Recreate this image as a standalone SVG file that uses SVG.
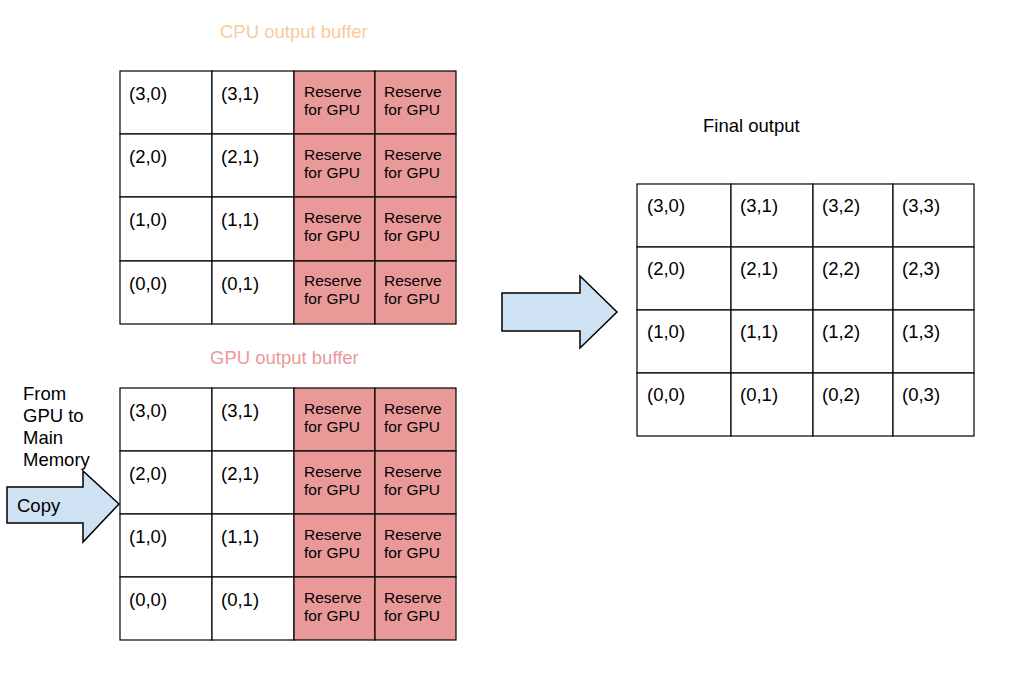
<svg xmlns="http://www.w3.org/2000/svg" width="1036" height="685" viewBox="0 0 1036 685">
<style>
text{font-family:"Liberation Sans",Arial,sans-serif;fill:#000}
.t{font-size:18.5px}
.r{font-size:15.5px}
.cell{fill:#fff;stroke:#000;stroke-width:1.2}
.res{fill:#ea9999;stroke:#000;stroke-width:1.2}
.arrow{fill:#cfe2f3;stroke:#000;stroke-width:1.5;stroke-linejoin:miter}
</style>
<rect width="1036" height="685" fill="#fff"/>

<g id="cpu-buffer">
<text class="t" x="220" y="38" style="fill:#f9cb9c">CPU output buffer</text>
<g id="cpu-grid">
<rect class="cell" x="120" y="71" width="92" height="63"/><rect class="cell" x="212" y="71" width="82" height="63"/>
<rect class="res" x="294" y="71" width="81" height="63"/><rect class="res" x="375" y="71" width="81" height="63"/>
<rect class="cell" x="120" y="134" width="92" height="63"/><rect class="cell" x="212" y="134" width="82" height="63"/>
<rect class="res" x="294" y="134" width="81" height="63"/><rect class="res" x="375" y="134" width="81" height="63"/>
<rect class="cell" x="120" y="197" width="92" height="64"/><rect class="cell" x="212" y="197" width="82" height="64"/>
<rect class="res" x="294" y="197" width="81" height="64"/><rect class="res" x="375" y="197" width="81" height="64"/>
<rect class="cell" x="120" y="261" width="92" height="63"/><rect class="cell" x="212" y="261" width="82" height="63"/>
<rect class="res" x="294" y="261" width="81" height="63"/><rect class="res" x="375" y="261" width="81" height="63"/>
<text class="t" x="129" y="100">(3,0)</text><text class="t" x="221" y="100">(3,1)</text>
<text class="t" x="129" y="163">(2,0)</text><text class="t" x="221" y="163">(2,1)</text>
<text class="t" x="129" y="226">(1,0)</text><text class="t" x="221" y="226">(1,1)</text>
<text class="t" x="129" y="290">(0,0)</text><text class="t" x="221" y="290">(0,1)</text>
<g class="r">
<text x="304" y="97">Reserve</text><text x="304" y="115">for GPU</text>
<text x="384" y="97">Reserve</text><text x="384" y="115">for GPU</text>
<text x="304" y="160">Reserve</text><text x="304" y="178">for GPU</text>
<text x="384" y="160">Reserve</text><text x="384" y="178">for GPU</text>
<text x="304" y="223">Reserve</text><text x="304" y="241">for GPU</text>
<text x="384" y="223">Reserve</text><text x="384" y="241">for GPU</text>
<text x="304" y="286">Reserve</text><text x="304" y="304">for GPU</text>
<text x="384" y="286">Reserve</text><text x="384" y="304">for GPU</text>
</g>
</g>
</g>

<g id="gpu-buffer">
<text class="t" x="210" y="364" style="fill:#ea9999">GPU output buffer</text>
<g id="gpu-grid">
<rect class="cell" x="120" y="388" width="92" height="63"/><rect class="cell" x="212" y="388" width="82" height="63"/>
<rect class="res" x="294" y="388" width="81" height="63"/><rect class="res" x="375" y="388" width="81" height="63"/>
<rect class="cell" x="120" y="451" width="92" height="63"/><rect class="cell" x="212" y="451" width="82" height="63"/>
<rect class="res" x="294" y="451" width="81" height="63"/><rect class="res" x="375" y="451" width="81" height="63"/>
<rect class="cell" x="120" y="514" width="92" height="63"/><rect class="cell" x="212" y="514" width="82" height="63"/>
<rect class="res" x="294" y="514" width="81" height="63"/><rect class="res" x="375" y="514" width="81" height="63"/>
<rect class="cell" x="120" y="577" width="92" height="63"/><rect class="cell" x="212" y="577" width="82" height="63"/>
<rect class="res" x="294" y="577" width="81" height="63"/><rect class="res" x="375" y="577" width="81" height="63"/>
<text class="t" x="129" y="417">(3,0)</text><text class="t" x="221" y="417">(3,1)</text>
<text class="t" x="129" y="480">(2,0)</text><text class="t" x="221" y="480">(2,1)</text>
<text class="t" x="129" y="543">(1,0)</text><text class="t" x="221" y="543">(1,1)</text>
<text class="t" x="129" y="606">(0,0)</text><text class="t" x="221" y="606">(0,1)</text>
<g class="r">
<text x="304" y="414">Reserve</text><text x="304" y="432">for GPU</text>
<text x="384" y="414">Reserve</text><text x="384" y="432">for GPU</text>
<text x="304" y="477">Reserve</text><text x="304" y="495">for GPU</text>
<text x="384" y="477">Reserve</text><text x="384" y="495">for GPU</text>
<text x="304" y="540">Reserve</text><text x="304" y="558">for GPU</text>
<text x="384" y="540">Reserve</text><text x="384" y="558">for GPU</text>
<text x="304" y="603">Reserve</text><text x="304" y="621">for GPU</text>
<text x="384" y="603">Reserve</text><text x="384" y="621">for GPU</text>
</g>
</g>
</g>

<g id="final-output">
<text class="t" x="703" y="132">Final output</text>
<g id="final-grid">
<rect class="cell" x="637" y="184" width="94" height="63"/><rect class="cell" x="731" y="184" width="82" height="63"/>
<rect class="cell" x="813" y="184" width="80" height="63"/><rect class="cell" x="893" y="184" width="81" height="63"/>
<rect class="cell" x="637" y="247" width="94" height="63"/><rect class="cell" x="731" y="247" width="82" height="63"/>
<rect class="cell" x="813" y="247" width="80" height="63"/><rect class="cell" x="893" y="247" width="81" height="63"/>
<rect class="cell" x="637" y="310" width="94" height="63"/><rect class="cell" x="731" y="310" width="82" height="63"/>
<rect class="cell" x="813" y="310" width="80" height="63"/><rect class="cell" x="893" y="310" width="81" height="63"/>
<rect class="cell" x="637" y="373" width="94" height="63"/><rect class="cell" x="731" y="373" width="82" height="63"/>
<rect class="cell" x="813" y="373" width="80" height="63"/><rect class="cell" x="893" y="373" width="81" height="63"/>
<text class="t" x="647" y="212">(3,0)</text><text class="t" x="740" y="212">(3,1)</text><text class="t" x="822" y="212">(3,2)</text><text class="t" x="902" y="212">(3,3)</text>
<text class="t" x="647" y="275">(2,0)</text><text class="t" x="740" y="275">(2,1)</text><text class="t" x="822" y="275">(2,2)</text><text class="t" x="902" y="275">(2,3)</text>
<text class="t" x="647" y="338">(1,0)</text><text class="t" x="740" y="338">(1,1)</text><text class="t" x="822" y="338">(1,2)</text><text class="t" x="902" y="338">(1,3)</text>
<text class="t" x="647" y="401">(0,0)</text><text class="t" x="740" y="401">(0,1)</text><text class="t" x="822" y="401">(0,2)</text><text class="t" x="902" y="401">(0,3)</text>
</g>
</g>

<g id="copy-label">
<text class="t" x="23" y="400">From</text>
<text class="t" x="23" y="422">GPU to</text>
<text class="t" x="23" y="444">Main</text>
<text class="t" x="23" y="466">Memory</text>
</g>

<g id="connectors">
<g id="copy-arrow">
<polygon class="arrow" points="7,487 83,487 83,471 119,504 83,542 83,523 7,523"/>
<text class="t" x="17" y="512">Copy</text>
</g>
<polygon id="merge-arrow" class="arrow" points="502,293 580,293 580,276 617,312 580,348 580,331 502,331"/>
</g>
</svg>
